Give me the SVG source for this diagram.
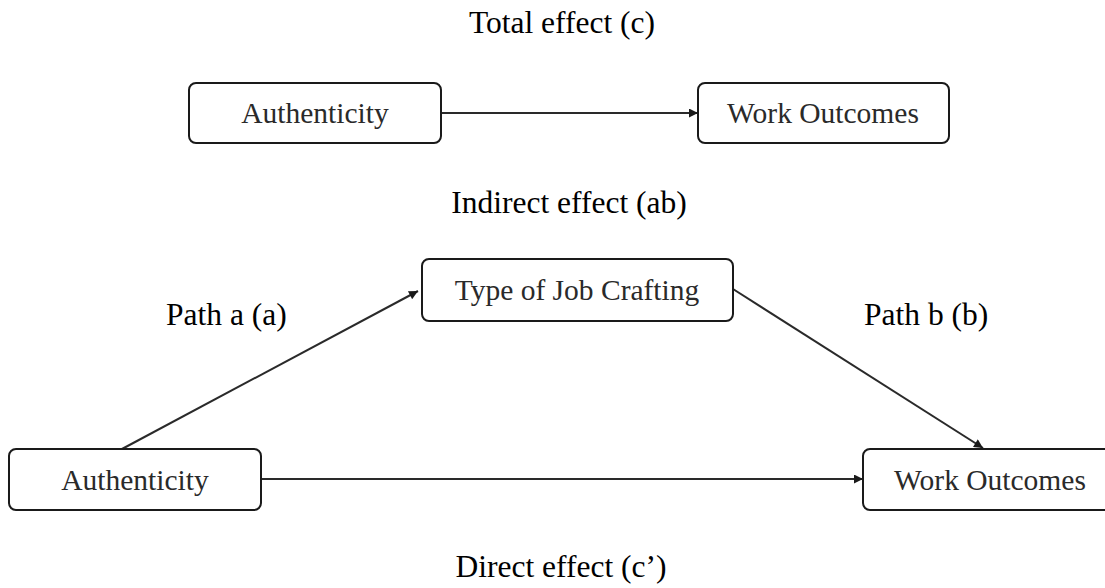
<svg xmlns="http://www.w3.org/2000/svg" width="1105" height="588" viewBox="0 0 1105 588">
<style>
.box{fill:#fff;stroke:#1a1a1a;stroke-width:2}
.bt{font-family:"Liberation Serif","Times New Roman",serif;font-size:29.5px;fill:#2a2a2a;text-anchor:middle}
.lb{font-family:"Liberation Serif","Times New Roman",serif;font-size:31.5px;fill:#000}
.ln{stroke:#2a2a2a;stroke-width:2;fill:none;marker-end:url(#ah)}
</style>
<defs>
<marker id="ah" viewBox="0 0 10 10" refX="10" refY="5" markerWidth="5" markerHeight="4.5" orient="auto" markerUnits="strokeWidth">
<path d="M0,0 L10,5 L0,10 z" fill="#1a1a1a"/>
</marker>
</defs>
<rect width="1105" height="588" fill="#fff"/>
<g id="labels">
<text class="lb" x="562" y="33" text-anchor="middle">Total effect (c)</text>
<text class="lb" x="569" y="213" text-anchor="middle">Indirect effect (ab)</text>
<text class="lb" x="166" y="325">Path a (a)</text>
<text class="lb" x="864" y="325">Path b (b)</text>
<text class="lb" x="561" y="577" text-anchor="middle">Direct effect (c’)</text>
</g>
<g id="connectors">
<line class="ln" x1="442" y1="113" x2="698" y2="113"/>
<line class="ln" x1="122" y1="449" x2="418" y2="291"/>
<line class="ln" x1="733" y1="289" x2="983" y2="448"/>
<line class="ln" x1="262" y1="479" x2="863" y2="479"/>
</g>
<g id="top-authenticity">
<rect class="box" x="189" y="83" width="252" height="60" rx="7"/>
<text class="bt" x="315" y="123">Authenticity</text>
</g>
<g id="top-work-outcomes">
<rect class="box" x="698" y="83" width="251" height="60" rx="7"/>
<text class="bt" x="823" y="123">Work Outcomes</text>
</g>
<g id="job-crafting">
<rect class="box" x="422" y="259" width="311" height="62" rx="7"/>
<text class="bt" x="577" y="300">Type of Job Crafting</text>
</g>
<g id="bottom-authenticity">
<rect class="box" x="9" y="449" width="252" height="61" rx="7"/>
<text class="bt" x="135" y="490">Authenticity</text>
</g>
<g id="bottom-work-outcomes">
<rect class="box" x="863" y="449" width="251" height="61" rx="7"/>
<text class="bt" x="990" y="490">Work Outcomes</text>
</g>
</svg>
